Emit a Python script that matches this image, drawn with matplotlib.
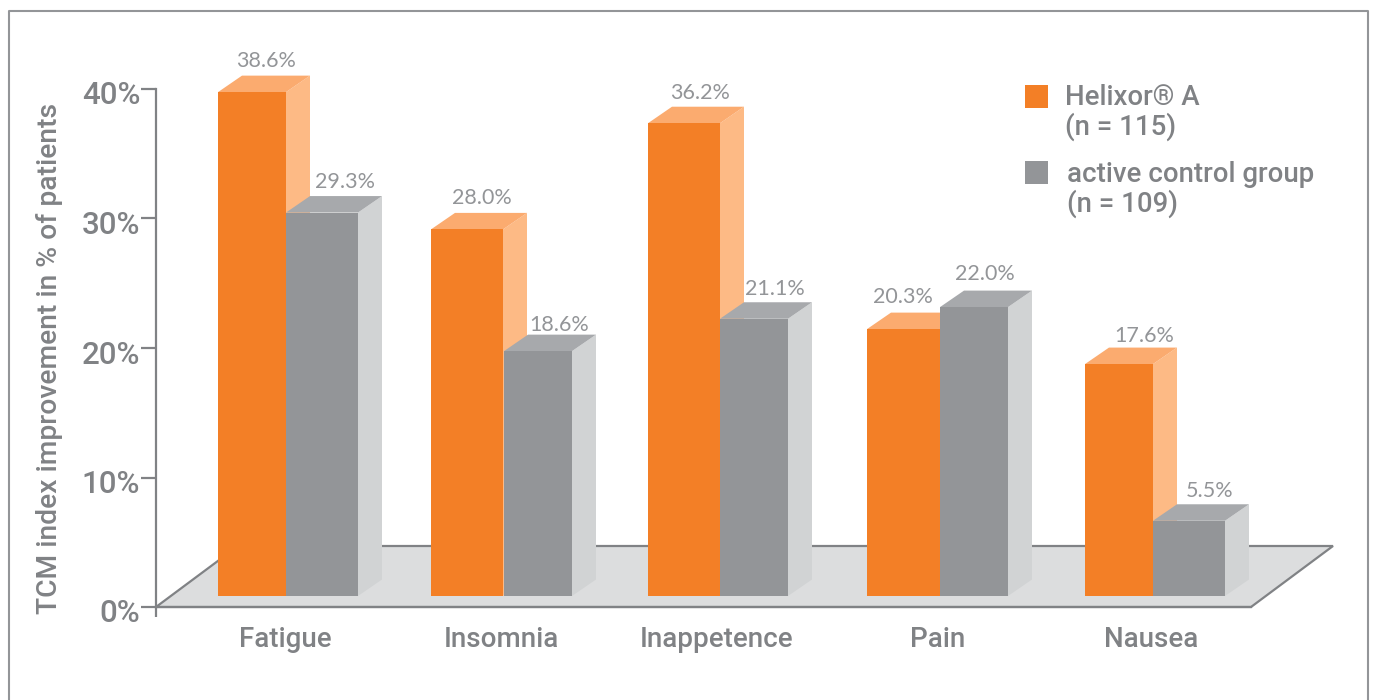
import matplotlib
matplotlib.use("Agg")
import matplotlib.pyplot as plt
from matplotlib.patches import Polygon, Rectangle
from matplotlib.lines import Line2D
from matplotlib.transforms import ScaledTranslation

# ---- data ----
categories = ["Fatigue", "Insomnia", "Inappetence", "Pain", "Nausea"]
helixor = [38.6, 28.0, 36.2, 20.3, 17.6]
control = [29.3, 18.6, 21.1, 22.0, 5.5]
y_ticks = [0, 10, 20, 30, 40]
y_tick_labels = ["0%", "10%", "20%", "30%", "40%"]
y_title = "TCM index improvement in % of patients"
legend_labels = ["Helixor\u00ae A\n(n = 115)", "active control group\n(n = 109)"]

# ---- layout (pixel-based x scale) ----
W, H = 1375, 700
AX_L, AX_R, AX_T, AX_B = 156, 1251, 89, 607
PX = 40 / (AX_B - AX_T)          # value units per pixel
orange_left = [218, 431, 648, 867, 1085]
orange_width = [68, 72, 72, 73, 68]
grey_left = [286, 504, 720, 940, 1153]
grey_width = [72, 68, 68, 68, 72]
cat_x = [285, 501, 717, 938, 1151]
label_x_orange = [266, 482, 700, 903, 1144]
label_x_grey = [345, 559, 775, 985, 1210]
gap_orange = [31, 31, 30, 32, 28]
gap_grey = [31, 26, 30, 33, 30]
DX, DY = 24, 16.5 * PX
BASE = 11 * PX
LIFT = 15 * PX

ORANGE, ORANGE_SIDE, ORANGE_TOP = "#f37f26", "#fdba85", "#fbab6f"
GREY, GREY_SIDE, GREY_TOP = "#939598", "#d1d3d4", "#a7a9ac"
FLOOR, LINE, TEXT, LIGHT = "#dcddde", "#808285", "#808285", "#939598"
FONT = "Roboto"

fig = plt.figure(figsize=(W / 100, H / 100), dpi=100, facecolor="white")
ax = fig.add_axes([AX_L / W, 1 - AX_B / H, (AX_R - AX_L) / W, (AX_B - AX_T) / H])
ax.set_xlim(AX_L, AX_R)
ax.set_ylim(0, 40)
ax.patch.set_visible(False)
for s in ("top", "right"):
    ax.spines[s].set_visible(False)
for s in ("left", "bottom"):
    ax.spines[s].set_color(LINE)
    ax.spines[s].set_linewidth(1.6)
    ax.spines[s].set_zorder(2)

# floor
ax.add_patch(Polygon([(AX_L, 0), (AX_R, 0), (AX_R + 82, 61 * PX), (AX_L + 82, 61 * PX)],
                     closed=True, facecolor=FLOOR, edgecolor=LINE, linewidth=1.6,
                     clip_on=False, zorder=1))
ax.plot([AX_L, AX_L], [0, -10 * PX], color=LINE, lw=1.6, clip_on=False, zorder=2,
        solid_capstyle="butt")


def draw_bar(left, width, value, face, side, top_c, z):
    top = value + LIFT
    right = left + width
    ax.add_patch(Polygon([(right, BASE), (right + DX, BASE + DY), (right + DX, top + DY), (right, top)],
                         closed=True, facecolor=side, edgecolor="none", clip_on=False, zorder=z))
    ax.add_patch(Polygon([(left, top), (left + DX, top + DY), (right + DX, top + DY), (right, top)],
                         closed=True, facecolor=top_c, edgecolor="none", clip_on=False, zorder=z))
    ax.bar(left, top - BASE, width=width, bottom=BASE, align="edge", color=face,
           edgecolor="none", clip_on=False, zorder=z + 0.1)
    return top


for i in range(len(categories)):
    t1 = draw_bar(orange_left[i], orange_width[i], helixor[i], ORANGE, ORANGE_SIDE, ORANGE_TOP, 3 + i)
    t2 = draw_bar(grey_left[i], grey_width[i], control[i], GREY, GREY_SIDE, GREY_TOP, 3.5 + i)
    ax.text(label_x_orange[i], t1 + gap_orange[i] * PX, f"{helixor[i]:.1f}%", ha="center", va="center",
            family="Lato", fontsize=15.5, color=LIGHT, zorder=20, clip_on=False)
    ax.text(label_x_grey[i], t2 + gap_grey[i] * PX, f"{control[i]:.1f}%", ha="center", va="center",
            family="Lato", fontsize=15.5, color=LIGHT, zorder=20, clip_on=False)

# axes ticks and labels
ax.set_yticks(y_ticks)
ax.set_yticklabels(y_tick_labels, family=FONT, weight="medium", fontsize=22.5, color=TEXT)
ax.tick_params(axis="y", length=10.8, width=1.6, color=LINE, pad=0.5)
shift = ScaledTranslation(0, -0.04, fig.dpi_scale_trans)
for lab in ax.get_yticklabels():
    lab.set_transform(lab.get_transform() + shift)
ax.set_xticks(cat_x)
ax.set_xticklabels(categories, family=FONT, weight="medium", fontsize=20, color=TEXT)
ax.tick_params(axis="x", length=0, pad=13.5)

fig.text(50 / W, 1 - 358 / H, y_title, rotation=90, ha="center", va="center",
         family=FONT, weight="medium", fontsize=20.3, color=TEXT)

# legend
legend_y = [96.5, 172.5]
legend_text_x = [1065, 1067]
legend_text_y = [112.5, 189.5]
for c, yy, tx, ty, lab in zip([ORANGE, GREY], legend_y, legend_text_x, legend_text_y, legend_labels):
    fig.add_artist(Rectangle((1025 / W, 1 - (yy + 11.5) / H), 23 / W, 23 / H,
                             transform=fig.transFigure, facecolor=c, edgecolor="none"))
    fig.text(tx / W, 1 - ty / H, lab, ha="left", va="center", family=FONT, weight="medium",
             fontsize=19.9, color=TEXT, linespacing=1.05)

# outer frame (open at the bottom)
fig.add_artist(Line2D([8.5 / W, 8.5 / W, 1368 / W, 1368 / W], [0, 1 - 10.5 / H, 1 - 10.5 / H, 0],
                      transform=fig.transFigure, color="#939598", lw=1.5))

fig.savefig("out.png", dpi=100, facecolor="white")
